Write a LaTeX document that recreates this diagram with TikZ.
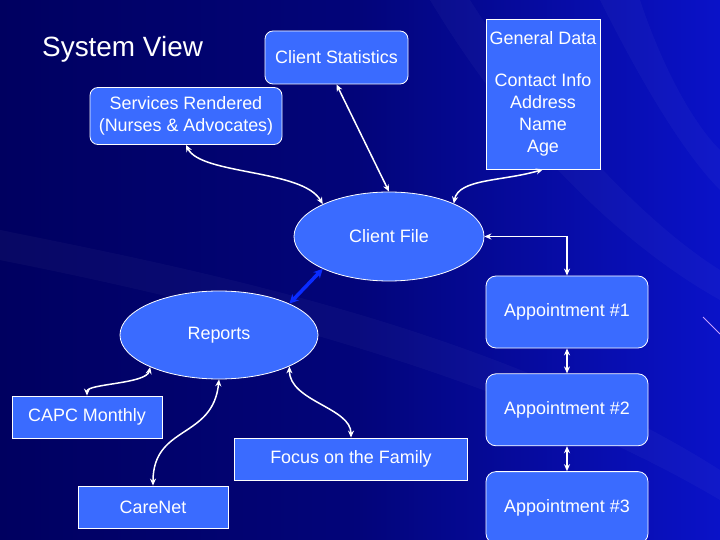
\documentclass[tikz,border=0pt]{standalone}
\usepackage{fontspec}
\setmainfont{Liberation Sans}
\usetikzlibrary{arrows.meta,positioning,shapes.geometric}
\definecolor{Navy}{HTML}{000060}
\definecolor{Deep}{HTML}{0A12C8}
\definecolor{Fill}{HTML}{3A6BFF}
\definecolor{Link}{HTML}{0A2CFF}
\definecolor{Lilac}{HTML}{C8A0FF}

\begin{document}
\begin{tikzpicture}[
    x=1bp, y=-1bp,
    node distance=25bp,
    box/.style={draw=white, line width=0.8bp, fill=Fill, text=white, align=center, inner sep=0pt, font=\fontsize{18}{22}\selectfont},
    rbox/.style={box, rounded corners=8bp},
    oval/.style={box, ellipse},
    appt/.style={rbox, rounded corners=10bp, minimum width=162bp, minimum height=72bp},
    flat/.style={box, minimum width=150bp, minimum height=42bp},
    link/.style={{Stealth[length=7bp,width=6bp]}-{Stealth[length=7bp,width=6bp]}, white, line width=1.5bp},
    bluelink/.style={{Stealth[length=9bp,width=9bp]}-{Stealth[length=9bp,width=9bp]}, Link, line width=3.5bp},
    streak/.style={white, opacity=0.03}
  ]
    \useasboundingbox (0,0) rectangle (720,540);
    % background
    \shade[left color=Navy, right color=Deep, middle color=Navy!75!Deep] (0,0) rectangle (720,540);
    \fill[streak] (430,0) .. controls (520,150) and (630,250) .. (720,300) -- (720,270) .. controls (640,220) and (540,110) .. (470,0) -- cycle;
    \fill[streak] (0,230) .. controls (200,270) and (500,330) .. (720,470) -- (720,500) .. controls (500,370) and (200,300) .. (0,260) -- cycle;
    \fill[streak] (600,0) .. controls (650,100) and (690,160) .. (720,190) -- (720,150) .. controls (690,120) and (660,60) .. (640,0) -- cycle;
    \draw[Lilac, line width=1bp] (703,317) -- (720,334);

    \node[anchor=base west, text=white, inner sep=0pt, font=\fontsize{28}{32}\selectfont] (title) at (42,57) {System View};
    \node[rbox, minimum width=143bp, minimum height=53bp] (stats) at (336.5,57.5) {Client Statistics};
    \node[box, minimum width=114bp, minimum height=150bp] (general) at (543,94) {General Data\\[20bp]Contact Info\\Address\\Name\\Age};
    \node[rbox, minimum width=192bp, minimum height=57bp] (services) at (186,116) {Services Rendered\\(Nurses \& Advocates)};
    \node[oval, minimum width=190bp, minimum height=89bp] (file) at (389,236.5) {Client File};
    \node[oval, minimum width=198bp, minimum height=88bp] (reports) at (219,335) {Reports};
    \node[appt] (app1) at (567,312) {Appointment \#1};
    \node[appt, below=of app1] (app2) {Appointment \#2};
    \node[appt, below=of app2] (app3) {Appointment \#3};
    \node[flat] (capc) at (87,417) {CAPC Monthly};
    \node[flat, minimum width=233bp] (focus) at (351,459) {Focus on the Family};
    \node[flat] (carenet) at (153,507) {CareNet};

    \draw[link] (services.south) .. controls +(15,30) and +(-20,-35) .. (file.154);
    \draw[link] (stats.south) -- (file.north);
    \draw[link] (general.south) .. controls +(-40,12) and +(5,-25) .. (file.27);
    \draw[link] (file.east) -| (app1.north);
    \draw[bluelink] (reports.24) -- (file.206);
    \draw[link] (app1) -- (app2);
    \draw[link] (app2) -- (app3);
    \draw[link] (reports.205) .. controls +(-4,17) and +(0,-12) .. (capc.north);
    \draw[link] (reports.south) .. controls +(-6,60) and +(0,-61) .. (carenet.north);
    \draw[link] (reports.336) .. controls +(0,35) and +(0,-30) .. (focus.north);
  \end{tikzpicture}
\end{document}
